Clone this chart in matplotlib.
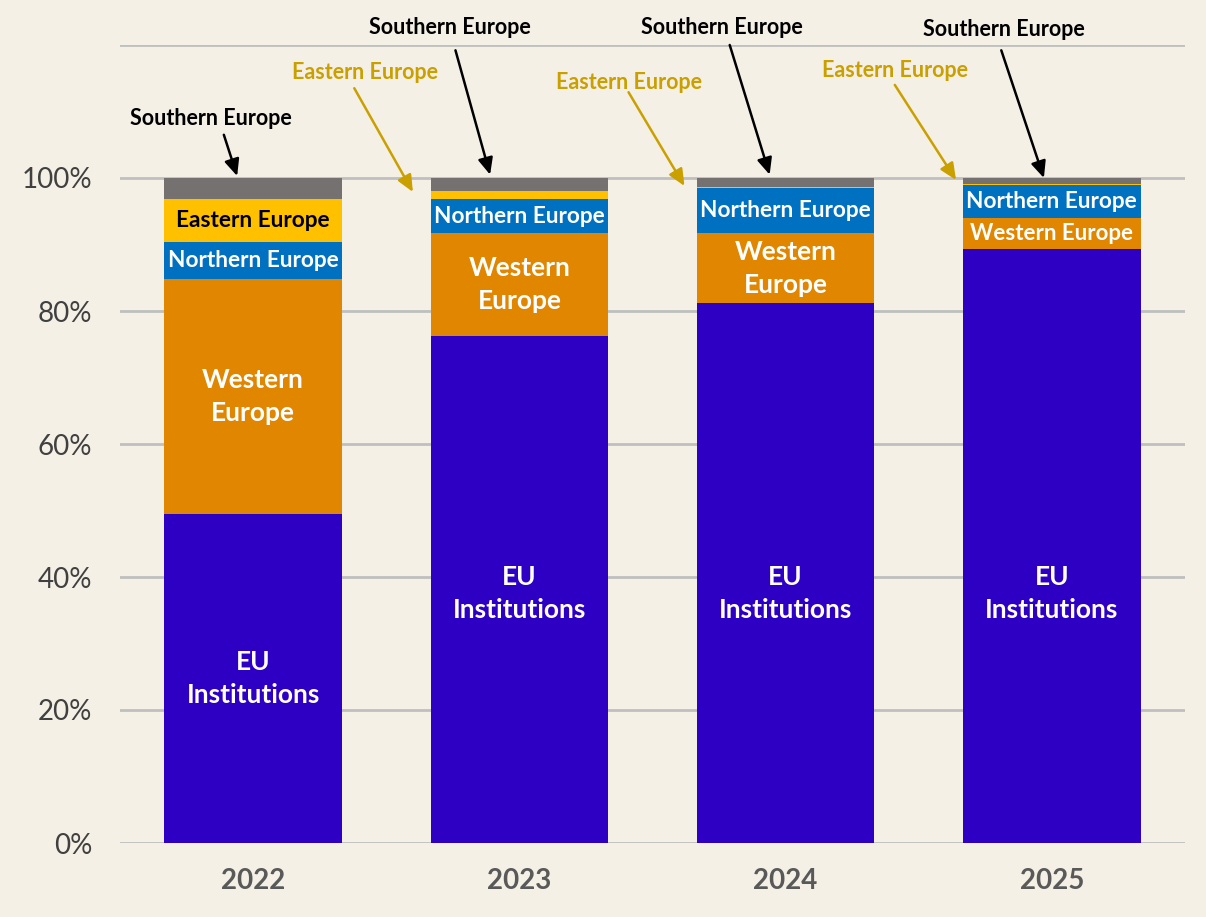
import numpy as np
import matplotlib
matplotlib.use("Agg")
import matplotlib.pyplot as plt

plt.rcParams['font.family'] = ['Lato', 'DejaVu Sans']

# Data (share of total, %)
years = ["2022", "2023", "2024", "2025"]
eu_institutions = [49.5, 76.2, 81.2, 89.3]
western_europe = [35.3, 15.5, 10.5, 4.7]
northern_europe = [5.6, 5.1, 6.8, 5.0]
eastern_europe = [6.5, 1.2, 0.1, 0.1]
southern_europe = [3.1, 2.0, 1.4, 0.9]

y_ticks = [0, 20, 40, 60, 80, 100]
y_tick_labels = ["0%", "20%", "40%", "60%", "80%", "100%"]

BG = "#F5F0E6"
COLORS = {
    "EU Institutions": "#2E00C4",
    "Western Europe": "#E08600",
    "Northern Europe": "#0070C0",
    "Eastern Europe": "#FFC000",
    "Southern Europe": "#767171",
}
GOLD = "#C9A000"

series = [
    ("EU Institutions", eu_institutions),
    ("Western Europe", western_europe),
    ("Northern Europe", northern_europe),
    ("Eastern Europe", eastern_europe),
    ("Southern Europe", southern_europe),
]

fig = plt.figure(figsize=(12.06, 9.17), dpi=100, facecolor=BG)
ax = fig.add_axes([120 / 1206, 74 / 917, 1065 / 1206, 798 / 917])
ax.set_facecolor(BG)

x = np.arange(len(years))
width = 0.667
bottom = np.zeros(len(years))
bars = {}
for name, vals in series:
    vals = np.array(vals)
    bars[name] = (bottom.copy(), vals)
    ax.bar(x, vals, width, bottom=bottom, color=COLORS[name], zorder=3)
    bottom += vals

# gridlines
for g in [0, 20, 40, 60, 80, 100, 120]:
    ax.axhline(g, color="#BFBFBF", lw=2, zorder=1)

ax.set_xlim(-0.5, 3.5)
ax.set_ylim(0, 120)
ax.set_yticks(y_ticks)
ax.set_yticklabels(y_tick_labels, fontsize=20, color="#404040")
ax.set_xticks(x)
ax.set_xticklabels(years, fontsize=20, fontweight="bold", color="#595959")
ax.tick_params(length=0)
ax.tick_params(axis="y", pad=20)
ax.tick_params(axis="x", pad=18)
for s in ax.spines.values():
    s.set_visible(False)


def seg_center(name, i):
    b, v = bars[name]
    return b[i] + v[i] / 2


# labels inside segments (EU label sits lower in the tall bars)
for i in range(len(years)):
    ax.text(x[i], min(seg_center("EU Institutions", i), 37.5), "EU\nInstitutions",
            ha="center", va="center", color="white", fontsize=19, fontweight="bold",
            linespacing=1.45, zorder=4)
    if i < 3:
        ax.text(x[i], seg_center("Western Europe", i), "Western\nEurope", ha="center",
                va="center", color="white", fontsize=19, fontweight="bold",
                linespacing=1.45, zorder=4)
    else:
        ax.text(x[i], seg_center("Western Europe", i), "Western Europe", ha="center",
                va="center", color="white", fontsize=16, fontweight="bold", zorder=4)
    ax.text(x[i], seg_center("Northern Europe", i), "Northern Europe", ha="center",
            va="center", color="white", fontsize=16.3, fontweight="bold", zorder=4)

ax.text(x[0], seg_center("Eastern Europe", 0), "Eastern Europe", ha="center",
        va="center", color="black", fontsize=16.3, fontweight="bold", zorder=4)

# callouts above the bars
south_text = [(-0.16, 109.0), (0.74, 122.7), (1.76, 122.6), (2.82, 122.3)]
south_tail = [(-0.11, 106.5), (0.76, 119.2), (1.79, 120.0), (2.81, 119.2)]
south_head = [(-0.06, 100.3), (0.89, 100.5), (1.94, 100.5), (2.97, 100.0)]
east_text = [None, (0.42, 115.8), (1.41, 114.4), (2.41, 116.2)]
east_tail = [None, (0.38, 113.5), (1.41, 112.9), (2.41, 114.0)]
east_head = [None, (0.60, 97.9), (1.62, 98.8), (2.64, 99.7)]

arrow = "-|>,head_width=0.45,head_length=1.0"
for i in range(len(years)):
    ax.text(*south_text[i], "Southern Europe", ha="center", va="center",
            fontsize=15.5, fontweight="bold", color="black", clip_on=False, zorder=5)
    ax.annotate("", xy=south_head[i], xytext=south_tail[i],
                arrowprops=dict(arrowstyle=arrow, color="black", lw=1.8,
                                shrinkA=0, shrinkB=0),
                annotation_clip=False, zorder=5)
    if east_text[i] is not None:
        ax.text(*east_text[i], "Eastern Europe", ha="center", va="center",
                fontsize=15.5, fontweight="bold", color=GOLD, clip_on=False, zorder=5)
        ax.annotate("", xy=east_head[i], xytext=east_tail[i],
                    arrowprops=dict(arrowstyle=arrow, color=GOLD, lw=1.8,
                                    shrinkA=0, shrinkB=0),
                    annotation_clip=False, zorder=5)

fig.savefig("out.png", dpi=100, facecolor=BG)
